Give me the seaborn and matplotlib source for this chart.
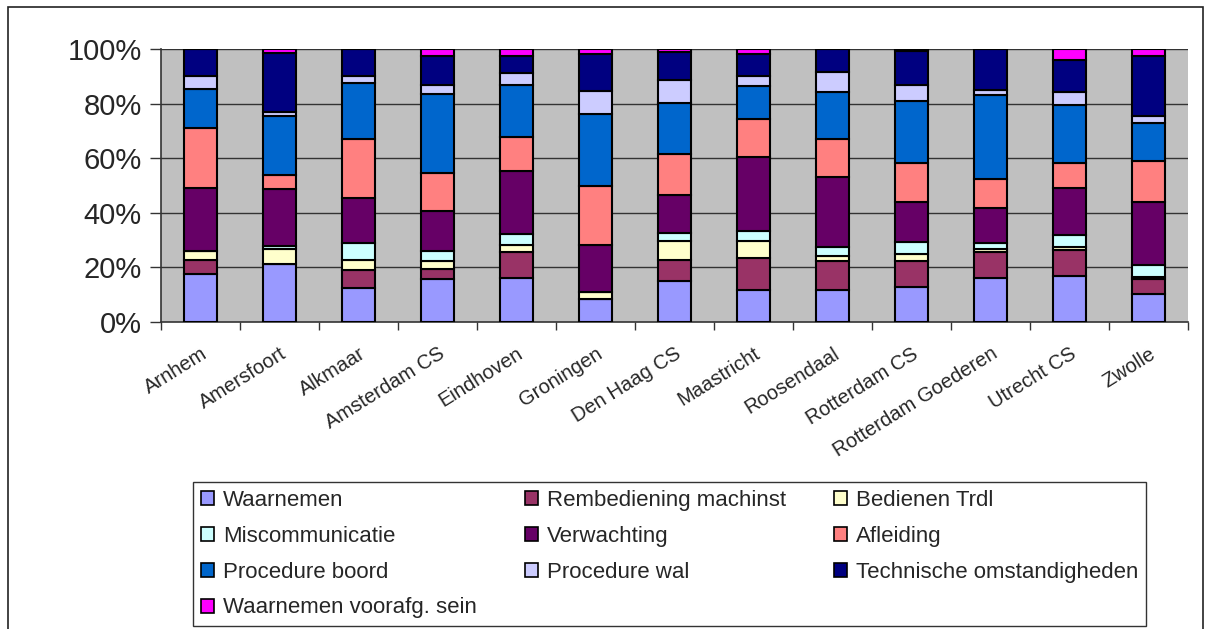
import numpy as np
import pandas as pd
import matplotlib
matplotlib.use("Agg")
import matplotlib.pyplot as plt
from matplotlib.patches import Patch, Rectangle
from matplotlib.transforms import ScaledTranslation
import seaborn as sns

stations = ["Arnhem", "Amersfoort", "Alkmaar", "Amsterdam CS", "Eindhoven", "Groningen",
            "Den Haag CS", "Maastricht", "Roosendaal", "Rotterdam CS", "Rotterdam Goederen",
            "Utrecht CS", "Zwolle"]

# percentages per cause, one value per station
waarnemen = [17.5, 21.4, 12.5, 15.8, 16.3, 8.3, 15.1, 11.6, 11.6, 12.9, 16.3, 16.9, 10.4]
rembediening = [5.3, 0.0, 6.6, 3.7, 9.2, 0.0, 7.7, 11.9, 10.6, 9.4, 9.3, 9.4, 5.4]
bedienen = [3.3, 5.3, 3.7, 2.9, 2.8, 2.7, 6.7, 6.0, 2.0, 2.7, 1.2, 1.1, 0.7]
miscommunicatie = [0.0, 1.2, 6.2, 3.7, 3.8, 0.0, 3.2, 3.8, 3.3, 4.3, 2.2, 4.5, 4.3]
verwachting = [23.1, 20.8, 16.3, 14.5, 23.1, 17.3, 13.9, 27.3, 25.7, 14.5, 12.7, 17.3, 23.0]
afleiding = [21.8, 5.2, 21.8, 13.9, 12.5, 21.6, 15.0, 13.7, 13.9, 14.6, 10.5, 9.2, 15.3]
proc_boord = [14.4, 21.6, 20.4, 29.0, 19.0, 26.4, 18.6, 12.0, 17.1, 22.4, 31.0, 21.0, 13.7]
proc_wal = [4.6, 1.4, 2.5, 3.3, 4.6, 8.4, 8.5, 3.8, 7.2, 5.9, 1.8, 4.7, 2.5]
technisch = [10.0, 21.6, 10.0, 10.5, 6.0, 13.3, 10.1, 7.9, 8.6, 12.6, 15.0, 12.0, 22.0]
vooraf_sein = [0.0, 1.5, 0.0, 2.7, 2.7, 2.0, 1.2, 2.0, 0.0, 0.7, 0.0, 3.9, 2.7]

causes = ["Waarnemen", "Rembediening machinst", "Bedienen Trdl", "Miscommunicatie",
          "Verwachting", "Afleiding", "Procedure boord", "Procedure wal",
          "Technische omstandigheden", "Waarnemen voorafg. sein"]
colors = ["#9999FF", "#993366", "#FFFFCC", "#CCFFFF", "#660066", "#FF8080",
          "#0066CC", "#CCCCFF", "#000080", "#FF00FF"]

df = pd.DataFrame({"station": stations,
                   causes[0]: waarnemen, causes[1]: rembediening, causes[2]: bedienen,
                   causes[3]: miscommunicatie, causes[4]: verwachting, causes[5]: afleiding,
                   causes[6]: proc_boord, causes[7]: proc_wal, causes[8]: technisch,
                   causes[9]: vooraf_sein})

sns.set_theme(style="white")
plt.rcParams["font.family"] = ["Liberation Sans", "DejaVu Sans"]

W, H = 1206, 629
fig = plt.figure(figsize=(W / 100, H / 100), dpi=100)
ax = fig.add_axes([161 / W, 1 - 322 / H, 1027 / W, 273 / H])
ax.set_facecolor("#C0C0C0")

bottom = np.zeros(len(stations))
for cause, col in zip(causes, colors):
    sns.barplot(data=df, x="station", y=cause, bottom=bottom, color=col,
                edgecolor="black", linewidth=1.5, width=0.42, saturation=1,
                ax=ax, zorder=3)
    bottom = bottom + df[cause].values

ax.set_xlim(-0.5, len(stations) - 0.5)
ax.set_ylim(0, 100)
ax.set_yticks([0, 20, 40, 60, 80, 100])
ax.set_yticklabels([f"{v}%" for v in range(0, 101, 20)], fontsize=21)
for v in [20, 40, 60, 80, 100]:
    ax.axhline(v, color="#333333", lw=1.0, zorder=1)

ax.set_xticks(range(len(stations)))
ax.set_xticklabels(stations, rotation=32, ha="right", rotation_mode="anchor", fontsize=14.5)
shift = ScaledTranslation(-6 / 100, 0, fig.dpi_scale_trans)
for lbl in ax.get_xticklabels():
    lbl.set_transform(lbl.get_transform() + shift)
ax.set_xticks(np.arange(-0.5, len(stations)), minor=True)
ax.tick_params(axis="x", which="major", length=0, pad=16)
ax.tick_params(axis="x", which="minor", length=6, width=1, color="#333333", direction="out", bottom=True)
ax.tick_params(axis="y", length=8, width=1, color="#333333", direction="out", left=True, pad=6)
ax.set_xlabel("")
ax.set_ylabel("")
for s in ["top", "right"]:
    ax.spines[s].set_visible(False)
for s in ["left", "bottom"]:
    ax.spines[s].set_color("#333333")
    ax.spines[s].set_linewidth(1.2)

# legend laid out row by row like the original (matplotlib fills column-wise)
order = [0, 3, 6, 9, 1, 4, 7, 2, 5, 8]
handles = [Patch(facecolor=colors[i], edgecolor="black", linewidth=1.2, label=causes[i]) for i in order]
leg = fig.legend(handles=handles, ncol=3, loc="upper left",
                 bbox_to_anchor=(193 / W, 1 - 482 / H), borderaxespad=0,
                 fontsize=16, frameon=True, fancybox=False, framealpha=1,
                 edgecolor="#333333", handlelength=0.6, handleheight=0.6,
                 handletextpad=0.4, labelspacing=0.67, columnspacing=2.15, borderpad=0.35)
leg.get_frame().set_linewidth(1.0)

# outer chart border
fig.patches.append(Rectangle((8 / W, -0.02), (1203 - 8) / W, 1 - 7 / H + 0.02,
                             transform=fig.transFigure, fill=False,
                             edgecolor="#222222", linewidth=1.2))

fig.savefig("out.png", dpi=100)
